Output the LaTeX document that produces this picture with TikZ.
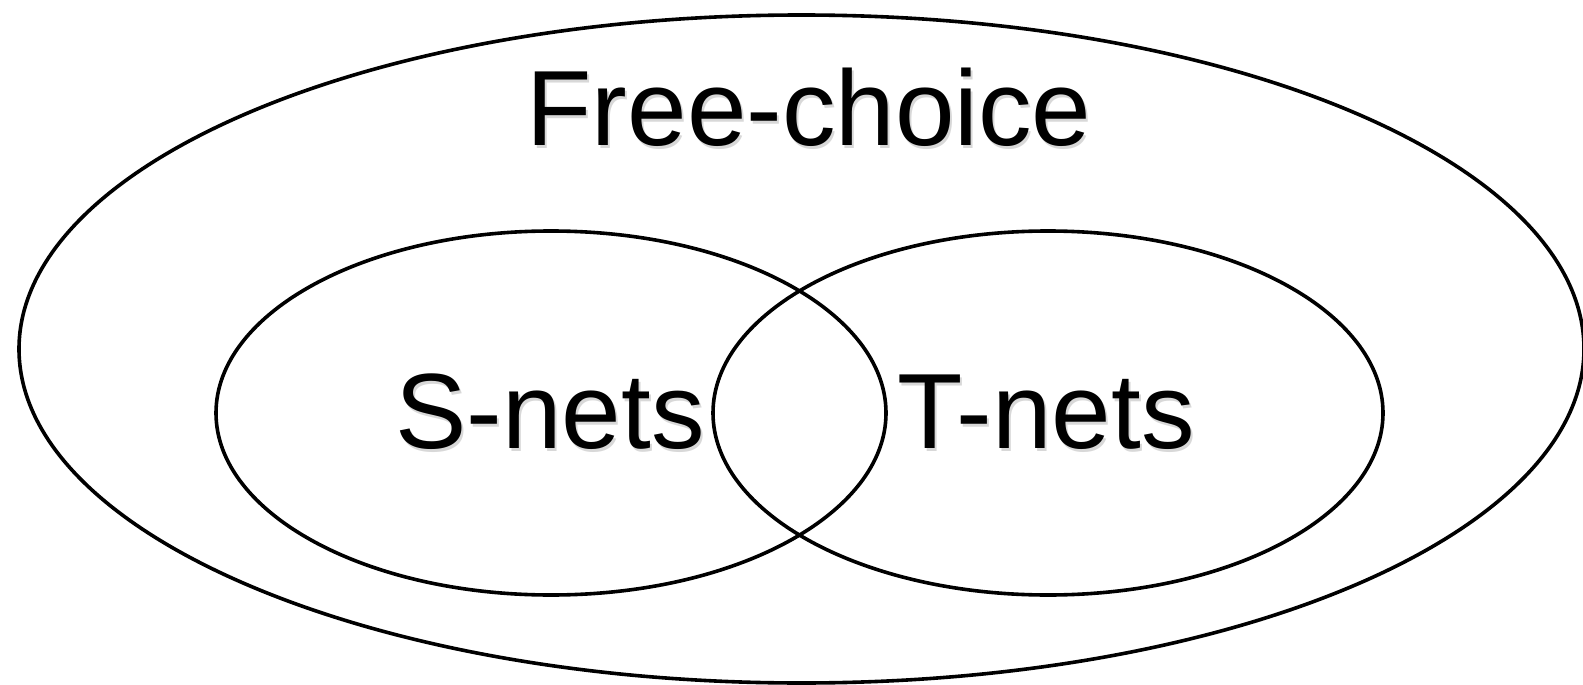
\documentclass[tikz,border=0pt]{standalone}
\usepackage{fontspec}
\setmainfont{Liberation Sans}
\begin{document}
\begin{tikzpicture}[x=1pt,y=-1pt,
  set/.style={draw=black,line width=3.6pt},
  lbl/.style={anchor=base,inner sep=0pt,font=\fontsize{107}{112}\selectfont},
  shadowlbl/.style={lbl,text=black!30,opacity=0.5}]
\useasboundingbox (0,0) rectangle (1583,685);
\draw[set] (801.5,349) ellipse [x radius=782.5,y radius=334];
\draw[set] (551,413) ellipse [x radius=335,y radius=182];
\draw[set] (1048,413) ellipse [x radius=335,y radius=182];
\node[shadowlbl] at (811,148) {Free-choice};
\node[lbl] (fc) at (809,145) {Free-choice};
\node[shadowlbl] at (552,451) {S-nets};
\node[lbl] (sn) at (550,448) {S-nets};
\node[shadowlbl] at (1048,451) {T-nets};
\node[lbl] (tn) at (1046,448) {T-nets};
\end{tikzpicture}
\end{document}
